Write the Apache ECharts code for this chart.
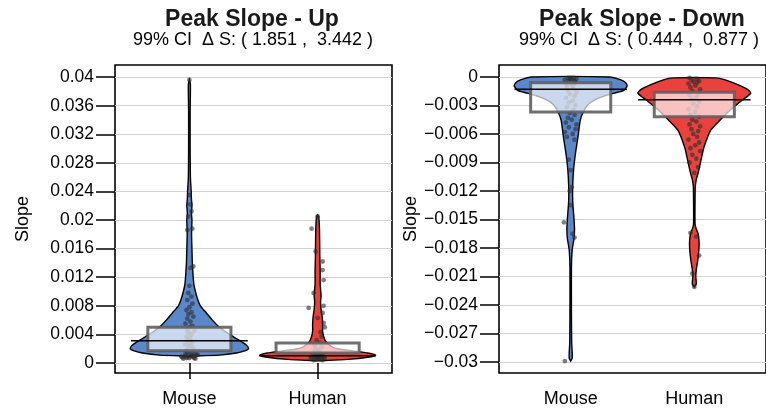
<!DOCTYPE html>
<html><head><meta charset="utf-8">
<script src="https://cdn.jsdelivr.net/npm/echarts@6/dist/echarts.min.js"></script>
<style>html,body{margin:0;padding:0;background:#fff}#c{width:766px;height:408px}</style>
</head><body><div id="c"></div>
<script>
// ---------- data ----------
const categories = ['Mouse', 'Human'];
const upTicks = [0, 0.004, 0.008, 0.012, 0.016, 0.02, 0.024, 0.028, 0.032, 0.036, 0.04];
const downTicks = [0, -0.003, -0.006, -0.009, -0.012, -0.015, -0.018, -0.021, -0.024, -0.027, -0.03];

// violin density profiles: [value, half-width in category units]
const mouseUpViolin = [[0.00095,0],[0.0011,0.234],[0.0014,0.367],[0.0017,0.43],[0.002,0.461],[0.0025,0.445],[0.003,0.406],[0.0035,0.359],[0.004,0.313],[0.0045,0.273],[0.005,0.234],[0.006,0.18],[0.007,0.133],[0.008,0.086],[0.009,0.063],[0.01,0.047],[0.011,0.035],[0.012,0.03],[0.014,0.023],[0.016,0.02],[0.018,0.017],[0.02,0.02],[0.021,0.016],[0.022,0.02],[0.023,0.016],[0.024,0.014],[0.026,0.008],[0.03,0.006],[0.035,0.006],[0.039,0.008],[0.0396,0]];
const humanUpViolin = [[0.0003,0],[0.0005,0.234],[0.0008,0.391],[0.0011,0.453],[0.0014,0.391],[0.0017,0.273],[0.002,0.156],[0.0023,0.109],[0.003,0.063],[0.0037,0.047],[0.0045,0.039],[0.0055,0.039],[0.0065,0.035],[0.0075,0.027],[0.0085,0.023],[0.0095,0.027],[0.011,0.02],[0.013,0.02],[0.015,0.017],[0.017,0.016],[0.019,0.014],[0.0205,0.008],[0.0207,0]];
const mouseDownViolin = [[-0.0299,0],[-0.0296,0.012],[-0.029,0.012],[-0.028,0.008],[-0.025,0.006],[-0.02,0.006],[-0.0182,0.012],[-0.017,0.027],[-0.016,0.031],[-0.015,0.027],[-0.0143,0.023],[-0.013,0.016],[-0.0116,0.016],[-0.0098,0.023],[-0.008,0.039],[-0.0063,0.059],[-0.0045,0.078],[-0.0035,0.109],[-0.0029,0.141],[-0.0024,0.195],[-0.002,0.273],[-0.0017,0.352],[-0.0014,0.43],[-0.00095,0.457],[-0.0006,0.445],[-0.0003,0.406],[0,0.313]];
const humanDownViolin = [[-0.0221,0],[-0.0218,0.016],[-0.021,0.012],[-0.0203,0.016],[-0.019,0.031],[-0.0175,0.039],[-0.0165,0.031],[-0.016,0.016],[-0.0155,0.006],[-0.013,0.006],[-0.0115,0.008],[-0.0108,0.016],[-0.0101,0.031],[-0.0087,0.055],[-0.0074,0.078],[-0.0056,0.133],[-0.0045,0.211],[-0.0035,0.289],[-0.0024,0.391],[-0.0017,0.457],[-0.0013,0.43],[-0.0008,0.352],[-0.0003,0.25],[-0.0001,0.172]];

// individual observations: [value, jitter offset in category units]
const mouseUpPoints = [[0.0396,0],[0.0235,0],[0.0222,0.008],[0.0212,0.016],[0.0205,-0.008],[0.0188,0.023],[0.0186,-0.016],[0.0135,0.031],[0.0133,0.008],[0.0108,0],[0.0098,-0.008],[0.0093,0.016],[0.0088,-0.016],[0.0083,0.023],[0.0078,0],[0.0074,-0.023],[0.0071,0.016],[0.0068,-0.008],[0.0065,0.031],[0.0062,-0.016],[0.0058,0.008],[0.0055,-0.031],[0.0052,0.023],[0.005,0],[0.0047,-0.016],[0.0045,0.039],[0.0042,-0.008],[0.004,0.016],[0.0037,-0.023],[0.0035,0.008],[0.0032,-0.016],[0.003,0.023],[0.0028,0],[0.0026,-0.031],[0.0024,0.016],[0.0022,-0.008],[0.002,0.031],[0.0018,-0.023],[0.0016,0.008],[0.0015,-0.016],[0.0013,0.039],[0.0012,-0.031],[0.0011,0.016],[0.001,-0.008],[0.001,0.023],[0.0009,-0.039],[0.0009,0.008],[0.0008,-0.016],[0.0008,0.031],[0.0007,0],[0.0007,-0.023],[0.0006,0.047],[0.0006,-0.047],[0.0012,0.063],[0.0009,-0.063],[0.0011,0.055],[0.0008,-0.055],[0.0007,0.039]];
const humanUpPoints = [[0.0205,0],[0.0188,-0.047],[0.0156,-0.016],[0.0142,0.039],[0.013,0.039],[0.0116,0.047],[0.0098,-0.031],[0.0077,-0.07],[0.008,0.047],[0.007,0.039],[0.0063,0],[0.0056,0.047],[0.005,0.055],[0.0043,0.023],[0.0037,0.031],[0.0032,-0.008],[0.0028,0.016],[0.0025,-0.023],[0.0022,0.031],[0.002,-0.016],[0.0018,0.008],[0.0016,-0.031],[0.0014,0.023],[0.0013,-0.008],[0.0012,0.039],[0.0011,-0.039],[0.001,0.016],[0.001,-0.016],[0.0009,0.047],[0.0009,-0.047],[0.0008,0],[0.0008,0.031],[0.0007,-0.023],[0.0007,0.055],[0.0006,-0.055],[0.0006,0.008],[0.0005,-0.008],[0.0005,0.023],[0.0004,-0.031],[0.0004,0.039]];
const mouseDownPoints = [[-0.0299,-0.047],[-0.0169,0.031],[-0.0165,0.016],[-0.0153,-0.055],[-0.0135,0],[-0.012,-0.008],[-0.0116,0.008],[-0.0098,0],[-0.0087,-0.016],[-0.0066,0.031],[-0.0063,-0.031],[-0.006,0.016],[-0.0058,-0.047],[-0.0055,0.039],[-0.0053,-0.016],[-0.005,0.047],[-0.0048,-0.039],[-0.0045,0.008],[-0.0043,-0.023],[-0.004,0.031],[-0.0038,-0.008],[-0.0035,0.023],[-0.0032,-0.031],[-0.003,0.039],[-0.0027,-0.016],[-0.0025,0.016],[-0.0022,-0.039],[-0.002,0.031],[-0.0018,-0.008],[-0.0016,0.047],[-0.0014,-0.023],[-0.0012,0.016],[-0.001,-0.031],[-0.0009,0.023],[-0.0008,0],[-0.0007,-0.039],[-0.0006,0.039],[-0.0005,-0.016],[-0.0004,0.031],[-0.0003,-0.047],[-0.0003,0.008],[-0.0002,-0.008],[-0.0002,0.047],[-0.0001,-0.023],[-0.0001,0.023],[-0.0001,0]];
const humanDownPoints = [[-0.0221,0],[-0.0207,-0.016],[-0.0188,0.039],[-0.0168,0.016],[-0.0164,-0.031],[-0.0101,0],[-0.0095,0.031],[-0.009,-0.039],[-0.0086,0.016],[-0.0082,-0.016],[-0.0078,0.047],[-0.0075,-0.031],[-0.0072,0.008],[-0.0069,0.039],[-0.0066,-0.047],[-0.0063,0.023],[-0.006,-0.008],[-0.0057,0.031],[-0.0055,-0.023],[-0.0052,0.047],[-0.005,-0.039],[-0.0047,0.016],[-0.0045,-0.016],[-0.0042,0.039],[-0.004,-0.031],[-0.0037,0.008],[-0.0034,-0.047],[-0.0031,0.023],[-0.0028,-0.008],[-0.0026,0.039],[-0.0023,-0.023],[-0.0021,0.016],[-0.0019,-0.039],[-0.0017,0.031],[-0.0015,-0.016],[-0.0013,0.047],[-0.0011,-0.031],[-0.0009,0.008],[-0.0007,-0.047],[-0.0006,0.023],[-0.0005,-0.008],[-0.0004,0.039],[-0.0003,-0.023],[-0.0002,0.016],[-0.0001,-0.039]];

// box summaries per category [Mouse, Human]
const upQ1 = [0.0017, 0.0014];
const upQ3 = [0.005, 0.0028];
const upMedian = [0.0031, 0.001];
const downQ1 = [-0.0037, -0.0042];
const downQ3 = [-0.0006, -0.0016];
const downMedian = [-0.0013, -0.0024];

const panelTitles = ['Peak Slope - Up', 'Peak Slope - Down'];
const panelSubtitles = ['99% CI  \u0394 S: ( 1.851 ,  3.442 )', '99% CI  \u0394 S: ( 0.444 ,  0.877 )'];

// ---------- styling ----------
const FONT = "'Liberation Sans', Arial, Helvetica, sans-serif";
const BLUE = '#5b87cb';
const RED = '#e9423c';
const BOX_HALF = 0.324;
const MED_HALF = 0.455;

function fmt(v) { return v < 0 ? '\u2212' + String(-v) : String(v); }

function violin(ax, pos, profile, color) {
  return {
    type: 'custom', xAxisIndex: ax, yAxisIndex: ax, z: 2, silent: true,
    data: [[pos, profile[0][0]]], encode: { x: 0, y: 1 },
    renderItem: function (params, api) {
      const right = profile.map(p => api.coord([pos + p[1], p[0]]));
      const left = profile.slice().reverse().map(p => api.coord([pos - p[1], p[0]]));
      return { type: 'polygon', shape: { points: right.concat(left), smooth: 0.2 },
        style: { fill: color, stroke: '#000', lineWidth: 1.4 } };
    }
  };
}
function dots(ax, pos, pts) {
  return {
    type: 'scatter', xAxisIndex: ax, yAxisIndex: ax, z: 3, silent: true,
    symbolSize: 4.8, itemStyle: { color: 'rgba(45,45,45,0.75)' },
    data: pts.map(p => [pos + p[1], p[0]])
  };
}
function boxes(ax, q1, q3, med) {
  return {
    type: 'custom', xAxisIndex: ax, yAxisIndex: ax, z: 4, silent: true,
    data: categories.map((c, i) => [i + 1, q1[i], q3[i], med[i]]), encode: { x: 0, y: [1, 2] },
    renderItem: function (params, api) {
      const x = api.value(0);
      const a = api.coord([x - BOX_HALF, api.value(2)]);
      const b = api.coord([x + BOX_HALF, api.value(1)]);
      const m1 = api.coord([x - MED_HALF, api.value(3)]);
      const m2 = api.coord([x + MED_HALF, api.value(3)]);
      return { type: 'group', children: [
        { type: 'rect', shape: { x: a[0], y: a[1], width: b[0] - a[0], height: b[1] - a[1] },
          style: { fill: 'rgba(255,255,255,0.68)', stroke: 'rgba(95,95,95,0.9)', lineWidth: 3 } },
        { type: 'line', shape: { x1: m1[0], y1: m1[1], x2: m2[0], y2: m2[1] },
          style: { stroke: '#000', lineWidth: 1.5 }, z2: 10 }
      ] };
    }
  };
}

const grids = [
  { left: 115, top: 65, width: 277, height: 308 },
  { left: 499, top: 65, width: 277, height: 308 }
];

function xAxis(i) {
  return {
    gridIndex: i, type: 'value', min: 0.42, max: 2.58,
    axisLine: { show: false }, splitLine: { show: false },
    axisTick: { show: true, customValues: [1, 2], length: 16, lineStyle: { color: '#000', width: 1.5 } },
    axisLabel: { customValues: [1, 2], formatter: v => categories[Math.round(v) - 1], fontSize: 18, color: '#000', fontFamily: FONT, margin: 17 }
  };
}
function yAxis(i, min, max, ticks, gap) {
  return {
    gridIndex: i, type: 'value', min: min, max: max,
    axisLine: { show: false },
    axisTick: { show: true, customValues: ticks, length: 19, lineStyle: { color: '#000', width: 1.5 } },
    axisLabel: { customValues: ticks, formatter: fmt, fontSize: 17.5, color: '#000', fontFamily: FONT, margin: 21 },
    splitLine: { show: true, lineStyle: { color: '#d2d2d2', width: 1 } },
    name: 'Slope', nameLocation: 'middle', nameGap: gap,
    nameTextStyle: { fontSize: 18, color: '#000', fontFamily: FONT }
  };
}

const option = {
  animation: false,
  backgroundColor: '#fff',
  grid: grids.map(g => Object.assign({ show: true, borderColor: '#000', borderWidth: 1.6, backgroundColor: 'transparent' }, g)),
  xAxis: [xAxis(0), xAxis(1)],
  yAxis: [yAxis(0, -0.0014, 0.0417, upTicks, 83), yAxis(1, -0.03116, 0.00126, downTicks, 79)],
  graphic: [
    { type: 'text', x: 252, y: 20, style: { text: panelTitles[0], font: 'bold 23px ' + FONT, fill: '#1a1a1a', align: 'center', verticalAlign: 'middle' } },
    { type: 'text', x: 253, y: 40, style: { text: panelSubtitles[0], font: '18px ' + FONT, fill: '#000', align: 'center', verticalAlign: 'middle' } },
    { type: 'text', x: 642, y: 20, style: { text: panelTitles[1], font: 'bold 23px ' + FONT, fill: '#1a1a1a', align: 'center', verticalAlign: 'middle' } },
    { type: 'text', x: 639, y: 40, style: { text: panelSubtitles[1], font: '18px ' + FONT, fill: '#000', align: 'center', verticalAlign: 'middle' } }
  ],
  series: [
    violin(0, 1, mouseUpViolin, BLUE), violin(0, 2, humanUpViolin, RED),
    dots(0, 1, mouseUpPoints), dots(0, 2, humanUpPoints),
    boxes(0, upQ1, upQ3, upMedian),
    violin(1, 1, mouseDownViolin, BLUE), violin(1, 2, humanDownViolin, RED),
    dots(1, 1, mouseDownPoints), dots(1, 2, humanDownPoints),
    boxes(1, downQ1, downQ3, downMedian)
  ]
};
const chart = echarts.init(document.getElementById('c'), null, { renderer: 'canvas' });
chart.setOption(option);
</script>
</body></html>
